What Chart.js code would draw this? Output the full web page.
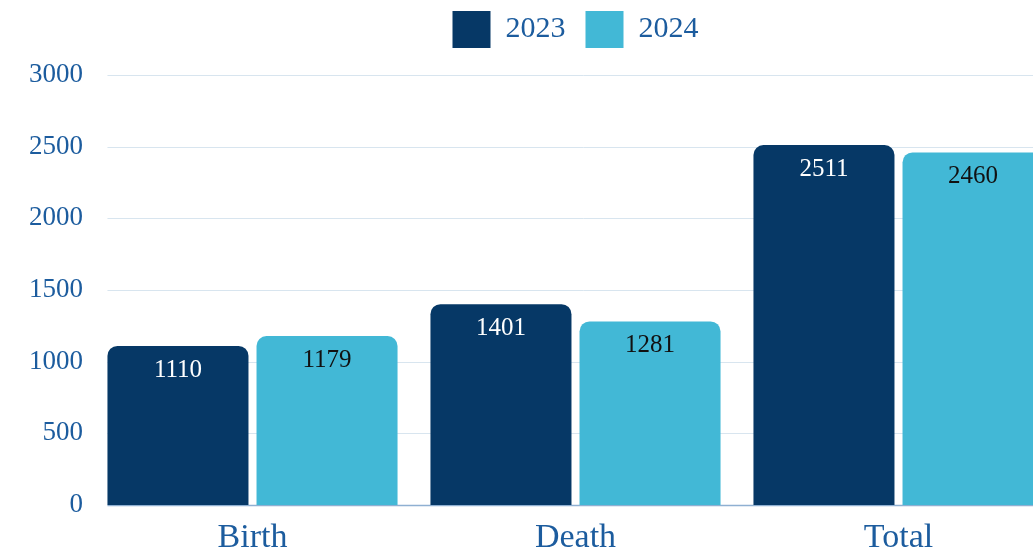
<!DOCTYPE html>
<html>
<head>
<meta charset="utf-8">
<script src="https://cdn.jsdelivr.net/npm/chart.js@4/dist/chart.umd.min.js"></script>
<style>
  html, body { margin: 0; padding: 0; background: #ffffff; overflow: hidden; }
  #wrap { position: relative; width: 1070px; height: 552px; }
</style>
</head>
<body>
<div id="wrap"><canvas id="c"></canvas></div>
<script>
const categories = ['Birth', 'Death', 'Total'];
const seriesNames = ['2023', '2024'];
const values2023 = [1110, 1401, 2511];
const values2024 = [1179, 1281, 2460];
const yTicks = [0, 500, 1000, 1500, 2000, 2500, 3000];

const SERIF = '"Liberation Serif", "DejaVu Serif", serif';
const DARK = '#063866';
const LIGHT = '#42b8d6';
const TEXT_BLUE = '#1c5c9e';

const gridPlugin = {
  id: 'customGrid',
  beforeDatasetsDraw(chart) {
    const y = chart.scales.y;
    const meta = chart.getDatasetMeta(0);
    const first = meta.data[0];
    const x0 = first.x - first.width / 2;
    const x1 = chart.chartArea.right;
    const ctx = chart.ctx;
    ctx.save();
    yTicks.forEach(v => {
      const py = Math.round(y.getPixelForValue(v)) + 0.5;
      ctx.beginPath();
      ctx.strokeStyle = v === 0 ? '#8fb0d2' : '#d8e5ef';
      ctx.lineWidth = v === 0 ? 1.5 : 1;
      ctx.moveTo(x0, py);
      ctx.lineTo(x1, py);
      ctx.stroke();
    });
    ctx.restore();
  }
};

const labelPlugin = {
  id: 'valueLabels',
  afterDatasetsDraw(chart) {
    const ctx = chart.ctx;
    ctx.save();
    ctx.font = '25px ' + SERIF;
    ctx.textAlign = 'center';
    ctx.textBaseline = 'alphabetic';
    chart.data.datasets.forEach((ds, i) => {
      const meta = chart.getDatasetMeta(i);
      ctx.fillStyle = i === 0 ? '#ffffff' : '#111111';
      meta.data.forEach((bar, j) => {
        ctx.fillText(String(ds.data[j]), bar.x, bar.y + 31);
      });
    });
    ctx.restore();
  }
};

const legendSizer = {
  id: 'legendSizer',
  beforeInit(chart) {
    const lg = chart.legend;
    if (!lg) return;
    const orig = lg.fit;
    lg.fit = function() { orig.call(this); this.height = 84; };
  }
};

new Chart(document.getElementById('c'), {
  type: 'bar',
  data: {
    labels: categories,
    datasets: [
      { label: seriesNames[0], data: values2023, backgroundColor: DARK },
      { label: seriesNames[1], data: values2024, backgroundColor: LIGHT }
    ]
  },
  options: {
    responsive: true,
    maintainAspectRatio: false,
    animation: false,
    layout: { padding: { top: -9, right: 10, left: 0, bottom: 0 } },
    datasets: {
      bar: {
        categoryPercentage: 0.923,
        barPercentage: 0.946,
        borderRadius: 10,
        borderSkipped: 'start'
      }
    },
    scales: {
      x: {
        grid: { display: false, drawTicks: false },
        border: { display: false },
        ticks: {
          color: TEXT_BLUE,
          font: { family: SERIF, size: 34 },
          padding: 13,
          maxRotation: 0
        },
        afterFit(s) { s.height = 47; }
      },
      y: {
        min: 0,
        max: 3000,
        grid: { display: false, drawTicks: false },
        border: { display: false },
        ticks: {
          stepSize: 500,
          color: TEXT_BLUE,
          font: { family: SERIF, size: 27 },
          padding: 8,
          callback: v => String(v)
        },
        afterFit(s) { s.width = 91; }
      }
    },
    plugins: {
      legend: {
        position: 'top',
        fullSize: false,
        labels: {
          boxWidth: 38,
          boxHeight: 37,
          padding: 20,
          color: TEXT_BLUE,
          font: { family: SERIF, size: 30 }
        }
      },
      tooltip: { enabled: false }
    }
  },
  plugins: [gridPlugin, labelPlugin, legendSizer]
});
</script>
</body>
</html>
